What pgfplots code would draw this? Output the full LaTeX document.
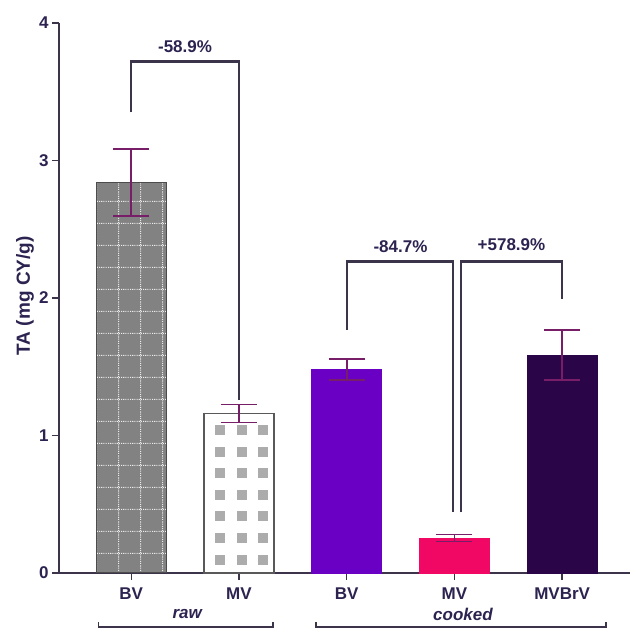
\documentclass[border=0pt]{standalone}
\usepackage{pgfplots}
\pgfplotsset{compat=1.18}
\usepackage{fontspec}
\setmainfont{Liberation Sans}
\usetikzlibrary{patterns}
\definecolor{txt}{RGB}{45,35,80}
\definecolor{axc}{RGB}{60,52,75}
\definecolor{errc}{RGB}{120,30,105}
\definecolor{cbv}{RGB}{106,0,196}
\definecolor{cmv}{RGB}{240,8,100}
\definecolor{cmvb}{RGB}{42,6,72}
\definecolor{rawbv}{RGB}{130,130,130}
\pgfdeclarepatternformonly{graysq}{\pgfqpoint{15pt}{-5pt}}{\pgfqpoint{36.6pt}{16.6pt}}{\pgfqpoint{21.6pt}{21.6pt}}{%
  \pgfpathrectangle{\pgfqpoint{20.6pt}{-0.5pt}}{\pgfqpoint{10pt}{10pt}}\pgfusepath{fill}}
\pgfdeclarepatternformonly{dotgrid}{\pgfqpoint{0pt}{0pt}}{\pgfqpoint{21.6pt}{21.6pt}}{\pgfqpoint{21.6pt}{21.6pt}}{%
  \pgfsetlinewidth{1.1pt}\pgfsetdash{{1.1pt}{1.1pt}}{0pt}%
  \pgfpathmoveto{\pgfqpoint{0pt}{10.8pt}}\pgfpathlineto{\pgfqpoint{21.6pt}{10.8pt}}%
  \pgfpathmoveto{\pgfqpoint{10.8pt}{0pt}}\pgfpathlineto{\pgfqpoint{10.8pt}{21.6pt}}%
  \pgfusepath{stroke}}
\newcommand{\lf}{\fontsize{17}{20}\selectfont\bfseries}
\begin{document}
\begin{tikzpicture}
\useasboundingbox (0,0) rectangle (633pt,629pt);
\begin{axis}[
  at={(59pt,56pt)}, anchor=south west,
  scale only axis, width=571pt, height=550pt,
  xmin=-0.67, xmax=4.63, ymin=0, ymax=4,
  axis lines=left, axis line style={-, draw=axc, line width=1.3pt},
  xtick={0,1,2,3,4}, xticklabels={BV,MV,BV,MV,MVBrV},
  ytick={0,1,2,3,4},
  tick align=outside, major tick length=7pt,
  tick style={draw=axc, line width=1.3pt},
  ticklabel style={font=\lf, text=txt},
  xticklabel style={yshift=-4pt},
  /pgf/number format/assume math mode=true,
  clip=false,
  bar width=0.65,
  error bars/error bar style={draw=errc, line width=1.7pt},
  error bars/error mark options={rotate=90, draw=errc, mark size=18pt, line width=1.7pt},
]
\addplot[ybar, bar shift=0pt, fill=rawbv, draw=black!70, line width=1pt,
  postaction={pattern=dotgrid, pattern color=white!85!gray},
  error bars/.cd, y dir=both, y explicit]
  coordinates {(0,2.84) +- (0,0.245)};
\addplot[ybar, bar shift=0pt, fill=white, draw=gray!70!black, line width=1.2pt,
  postaction={pattern=graysq, pattern color=gray!65},
  error bars/.cd, y dir=both, y explicit]
  coordinates {(1,1.16) +- (0,0.065)};
\addplot[ybar, bar shift=0pt, fill=cbv, draw=cbv,
  error bars/.cd, y dir=both, y explicit]
  coordinates {(2,1.48) +- (0,0.075)};
\addplot[ybar, bar shift=0pt, fill=cmv, draw=cmv,
  error bars/.cd, y dir=both, y explicit]
  coordinates {(3,0.255) +- (0,0.025)};
\addplot[ybar, bar shift=0pt, fill=cmvb, draw=cmvb,
  error bars/.cd, y dir=both, y explicit]
  coordinates {(4,1.585) +- (0,0.18)};
% significance brackets
\draw[axc, line width=2.2pt] (axis cs:0,3.35) |- (axis cs:1,3.72) -- (axis cs:1,1.26);
\draw[axc, line width=2.2pt] (axis cs:2,1.77) |- (axis cs:2.99,2.265) -- (axis cs:2.99,0.44);
\draw[axc, line width=2.2pt] (axis cs:3.065,0.44) |- (axis cs:4,2.265) -- (axis cs:4,1.99);
\node[font=\lf, text=txt] at (axis cs:0.5,3.825) {-58.9\%};
\node[font=\lf, text=txt] at (axis cs:2.5,2.37) {-84.7\%};
\node[font=\lf, text=txt] at (axis cs:3.53,2.385) {+578.9\%};
% group labels
\node[font=\fontsize{17}{20}\selectfont\bfseries\itshape, text=txt] at (axis cs:0.52,-0.30) {raw};
\node[font=\fontsize{17}{20}\selectfont\bfseries\itshape, text=txt] at (axis cs:3.08,-0.30) {cooked};
\draw[axc, line width=1.3pt] (axis cs:-0.306,-0.356) -- (axis cs:-0.306,-0.393) -- (axis cs:1.317,-0.393) -- (axis cs:1.317,-0.356);
\draw[axc, line width=1.3pt] (axis cs:1.716,-0.356) -- (axis cs:1.716,-0.393) -- (axis cs:4.406,-0.393) -- (axis cs:4.406,-0.356);
\node[font=\fontsize{19}{22}\selectfont\bfseries, text=txt, rotate=90] at (axis description cs:-0.0595,0.504) {TA (mg CY/g)};
\end{axis}
\end{tikzpicture}
\end{document}
